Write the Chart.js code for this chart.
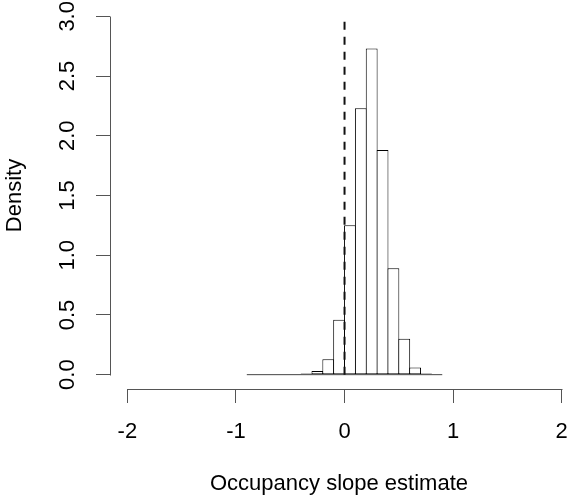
<!DOCTYPE html>
<html>
<head>
<meta charset="utf-8">
<script src="https://cdn.jsdelivr.net/npm/chart.js@4.4.1/dist/chart.umd.min.js"></script>
<style>
  html, body { margin: 0; padding: 0; background: #fff; }
  #wrap { width: 568px; height: 500px; }
</style>
</head>
<body>
<div id="wrap"><canvas id="histChart" width="568" height="500"></canvas></div>
<script>
// histogram bins (left edges, width 0.1) and densities
const binStarts = [-0.9, -0.8, -0.7, -0.6, -0.5, -0.4, -0.3, -0.2, -0.1,
                   0.0, 0.1, 0.2, 0.3, 0.4, 0.5, 0.6, 0.7, 0.8];
const densities = [0.003, 0, 0, 0, 0.005, 0.01, 0.03, 0.13, 0.46,
                   1.25, 2.23, 2.73, 1.88, 0.89, 0.30, 0.06, 0.01, 0.003];
const binWidth = 0.1;
const xTicks = [-2, -1, 0, 1, 2];
const yTicks = [0, 0.5, 1.0, 1.5, 2.0, 2.5, 3.0];
const refLineX = 0;

const axisColor = '#555';
const barEdge = '#000';
const fontFamily = "'Liberation Sans', Arial, sans-serif";
const fontSize = 22;

const bars = binStarts.map((b, i) => ({ x: +(b + binWidth / 2).toFixed(2), y: densities[i] }));
const lastEdge = binStarts[binStarts.length - 1] + binWidth;

// R style axes: the line only spans first..last tick
const axisLines = {
  id: 'axisLines',
  afterDraw(chart) {
    const { ctx, chartArea, scales: { x, y } } = chart;
    ctx.save();
    ctx.strokeStyle = axisColor;
    ctx.lineWidth = 1;
    ctx.beginPath();
    const yb = Math.round(chartArea.bottom) + 0.5;
    ctx.moveTo(Math.round(x.getPixelForValue(xTicks[0])) + 0.5, yb);
    ctx.lineTo(Math.round(x.getPixelForValue(xTicks[xTicks.length - 1])) + 0.5, yb);
    const xl = Math.round(chartArea.left) + 0.5;
    ctx.moveTo(xl, Math.round(y.getPixelForValue(yTicks[0])) + 0.5);
    ctx.lineTo(xl, Math.round(y.getPixelForValue(yTicks[yTicks.length - 1])) + 0.5);
    ctx.stroke();
    ctx.restore();
  }
};

new Chart(document.getElementById('histChart'), {
  data: {
    datasets: [
      {
        type: 'line',
        data: [{ x: refLineX, y: 0 }, { x: refLineX, y: 3 }],
        borderColor: '#111',
        borderWidth: 2,
        borderDash: [8, 7],
        pointRadius: 0,
        order: 0
      },
      {
        type: 'line',
        data: [{ x: binStarts[0], y: 0 }, { x: lastEdge, y: 0 }],
        borderColor: '#444',
        borderWidth: 1,
        pointRadius: 0,
        order: 1
      },
      {
        type: 'bar',
        data: bars,
        backgroundColor: '#fff',
        borderColor: barEdge,
        borderWidth: 1,
        borderSkipped: false,
        barPercentage: 1.09,
        categoryPercentage: 1,
        order: 2
      }
    ]
  },
  options: {
    responsive: false,
    animation: false,
    layout: { padding: { top: 2, right: 0, left: 0, bottom: 0 } },
    plugins: {
      legend: { display: false },
      tooltip: { enabled: false }
    },
    scales: {
      x: {
        type: 'linear',
        min: -2.16,
        max: 2.058,
        offset: false,
        afterBuildTicks: (s) => { s.ticks = xTicks.map(v => ({ value: v })); },
        afterFit: (s) => { s.height = 111; s.paddingLeft = 0; s.paddingRight = 0; },
        border: { display: false },
        grid: { offset: false, drawOnChartArea: false, drawTicks: true, tickLength: 14, color: axisColor },
        ticks: {
          autoSkip: false,
          maxRotation: 0,
          padding: 16,
          color: '#000',
          font: { family: fontFamily, size: fontSize },
          callback: (v) => String(v)
        },
        title: {
          display: true,
          text: 'Occupancy slope estimate',
          color: '#000',
          font: { family: fontFamily, size: fontSize },
          padding: { top: 0, bottom: 3 }
        }
      },
      y: {
        type: 'linear',
        min: -0.12,
        max: 3.12,
        afterBuildTicks: (s) => { s.ticks = yTicks.map(v => ({ value: v })); },
        afterFit: (s) => { s.width = 110; s.paddingTop = 0; s.paddingBottom = 0; },
        border: { display: false },
        grid: { drawOnChartArea: false, drawTicks: true, tickLength: 14, color: axisColor },
        ticks: {
          autoSkip: false,
          minRotation: 90,
          maxRotation: 90,
          crossAlign: 'center',
          padding: 13,
          color: '#000',
          font: { family: fontFamily, size: fontSize },
          callback: (v) => Number(v).toFixed(1)
        },
        title: {
          display: true,
          text: 'Density',
          color: '#000',
          font: { family: fontFamily, size: fontSize },
          padding: { top: 2, bottom: 0 }
        }
      }
    }
  },
  plugins: [axisLines]
});
</script>
</body>
</html>
